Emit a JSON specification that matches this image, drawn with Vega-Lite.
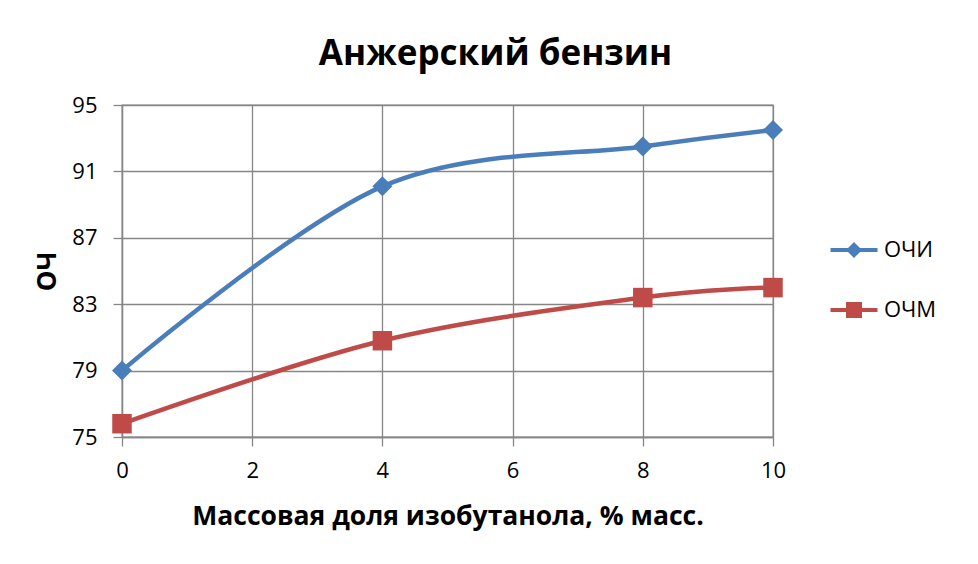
{
  "$schema": "https://vega.github.io/schema/vega-lite/v6.json",
  "autosize": "none",
  "width": 651,
  "height": 332,
  "padding": {"left": 122, "top": 105, "right": 205, "bottom": 127},
  "background": "white",
  "title": {
    "text": "Анжерский бензин",
    "font": "Open Sans",
    "fontSize": 35,
    "fontWeight": "bold",
    "color": "black",
    "anchor": "middle",
    "dx": 48,
    "offset": 22
  },
  "config": {
    "view": {"stroke": "#868686", "strokeWidth": 1.3},
    "axis": {
      "gridColor": "#868686",
      "gridWidth": 1.3,
      "gridOpacity": 1,
      "domainColor": "#868686",
      "domainWidth": 1.3,
      "tickColor": "#868686",
      "tickWidth": 1.3,
      "tickSize": 9,
      "labelFont": "Open Sans",
      "labelFontSize": 22,
      "labelColor": "black",
      "titleFont": "Open Sans",
      "titleFontSize": 26,
      "titleFontWeight": "bold",
      "titleColor": "black"
    }
  },
  "data": {
    "values": [
      {"x": 0, "y": 79.0, "s": "ОЧИ"},
      {"x": 4, "y": 90.1, "s": "ОЧИ"},
      {"x": 8, "y": 92.5, "s": "ОЧИ"},
      {"x": 10, "y": 93.5, "s": "ОЧИ"},
      {"x": 0, "y": 75.8, "s": "ОЧМ"},
      {"x": 4, "y": 80.8, "s": "ОЧМ"},
      {"x": 8, "y": 83.4, "s": "ОЧМ"},
      {"x": 10, "y": 84.0, "s": "ОЧМ"}
    ]
  },
  "encoding": {
    "x": {
      "field": "x", "type": "quantitative",
      "scale": {"domain": [0, 10], "nice": false},
      "axis": {"values": [0, 2, 4, 6, 8, 10], "title": "Массовая доля изобутанола, % масс.", "labelFontSize": 22, "labelPadding": 14, "titlePadding": 22, "titleFontSize": 26.5, "labelFlush": false, "labelOverlap": false}
    },
    "y": {
      "field": "y", "type": "quantitative",
      "scale": {"domain": [75, 95], "nice": false, "zero": false},
      "axis": {"values": [75, 79, 83, 87, 91, 95], "title": "ОЧ", "labelFontSize": 22, "labelPadding": 16, "titlePadding": 11, "labelFlush": false, "labelOverlap": false}
    },
    "color": {
      "field": "s", "type": "nominal",
      "scale": {"domain": ["ОЧИ", "ОЧМ"], "range": ["#4A7EBB", "#BE4B48"]},
      "legend": {
        "title": null,
        "orient": "none",
        "legendX": 721,
        "legendY": 134,
        "padding": 0,
        "symbolSize": 100,
        "symbolStrokeWidth": 0,
        "labelFont": "Open Sans",
        "labelFontSize": 22,
        "labelColor": "black",
        "labelOffset": 19,
        "rowPadding": 38
      }
    }
  },
  "layer": [
    {
      "mark": {"type": "line", "interpolate": "cardinal", "strokeWidth": 4.5}
    },
    {
      "transform": [{"filter": "datum.s === 'ОЧИ'"}],
      "mark": {"type": "point", "filled": true, "opacity": 1, "size": 400, "shape": "diamond"}
    },
    {
      "transform": [{"filter": "datum.s === 'ОЧМ'"}],
      "mark": {"type": "point", "filled": true, "opacity": 1, "size": 380, "shape": "square"}
    },
    {
      "mark": {"type": "point", "filled": true, "size": 0},
      "encoding": {
        "shape": {
          "field": "s", "type": "nominal",
          "scale": {"domain": ["ОЧИ", "ОЧМ"], "range": ["M-4.7,-0.4H-1.2L0,-1.6L1.2,-0.4H4.7V0.4H1.2L0,1.6L-1.2,0.4H-4.7Z", "M-4.7,-0.4H-1.6V-1.6H1.6V-0.4H4.7V0.4H1.6V1.6H-1.6V0.4H-4.7Z"]},
          "legend": {"title": null}
        }
      }
    }
  ]
}
